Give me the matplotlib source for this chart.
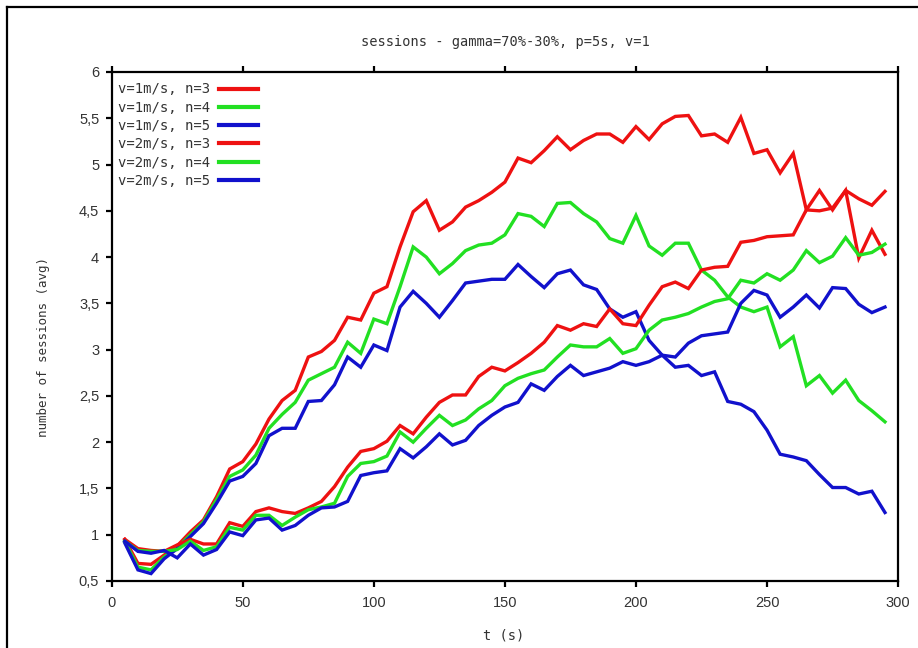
import numpy as np
import matplotlib
matplotlib.use('Agg')
import matplotlib.pyplot as plt
from matplotlib.lines import Line2D

# time axis (s)
t = list(range(5, 300, 5))

# v=1m/s runs
v1_n3 = [0.95, 0.69, 0.68, 0.78, 0.88, 1.03, 1.16, 1.41, 1.71, 1.79,
         1.98, 2.25, 2.45, 2.56, 2.92, 2.98, 3.10, 3.35, 3.32, 3.61,
         3.68, 4.11, 4.49, 4.61, 4.29, 4.38, 4.54, 4.61, 4.70, 4.81,
         5.07, 5.02, 5.15, 5.30, 5.16, 5.26, 5.33, 5.33, 5.24, 5.41,
         5.27, 5.44, 5.52, 5.53, 5.31, 5.33, 5.24, 5.51, 5.12, 5.16,
         4.91, 5.12, 4.51, 4.72, 4.51, 4.72, 3.99, 4.29, 4.03]
v1_n4 = [0.93, 0.65, 0.62, 0.76, 0.86, 1.00, 1.14, 1.38, 1.63, 1.70,
         1.86, 2.15, 2.30, 2.43, 2.67, 2.74, 2.81, 3.08, 2.96, 3.33,
         3.28, 3.68, 4.11, 4.00, 3.82, 3.93, 4.07, 4.13, 4.15, 4.24,
         4.47, 4.44, 4.33, 4.58, 4.59, 4.47, 4.38, 4.20, 4.15, 4.45,
         4.12, 4.02, 4.15, 4.15, 3.86, 3.75, 3.57, 3.46, 3.41, 3.46,
         3.03, 3.14, 2.61, 2.72, 2.53, 2.67, 2.45, 2.34, 2.22]
v1_n5 = [0.91, 0.62, 0.58, 0.74, 0.85, 0.98, 1.12, 1.34, 1.58, 1.63,
         1.77, 2.07, 2.15, 2.15, 2.44, 2.45, 2.62, 2.92, 2.81, 3.05,
         2.99, 3.46, 3.63, 3.50, 3.35, 3.53, 3.72, 3.74, 3.76, 3.76,
         3.92, 3.79, 3.67, 3.82, 3.86, 3.70, 3.65, 3.44, 3.35, 3.41,
         3.10, 2.94, 2.81, 2.83, 2.72, 2.76, 2.44, 2.41, 2.33, 2.13,
         1.87, 1.84, 1.80, 1.65, 1.51, 1.51, 1.44, 1.47, 1.24]

# v=2m/s runs
v2_n3 = [0.95, 0.85, 0.83, 0.82, 0.89, 0.95, 0.90, 0.90, 1.13, 1.09,
         1.25, 1.29, 1.25, 1.23, 1.29, 1.36, 1.52, 1.73, 1.90, 1.93,
         2.01, 2.18, 2.09, 2.27, 2.43, 2.51, 2.51, 2.71, 2.81, 2.77,
         2.86, 2.96, 3.08, 3.26, 3.21, 3.28, 3.25, 3.44, 3.28, 3.26,
         3.48, 3.68, 3.73, 3.66, 3.86, 3.89, 3.90, 4.16, 4.18, 4.22,
         4.23, 4.24, 4.51, 4.50, 4.53, 4.72, 4.63, 4.56, 4.71]
v2_n4 = [0.93, 0.83, 0.82, 0.82, 0.84, 0.93, 0.83, 0.87, 1.08, 1.05,
         1.21, 1.21, 1.10, 1.19, 1.27, 1.30, 1.34, 1.63, 1.77, 1.79,
         1.85, 2.11, 2.00, 2.15, 2.29, 2.18, 2.24, 2.36, 2.45, 2.61,
         2.69, 2.74, 2.78, 2.92, 3.05, 3.03, 3.03, 3.12, 2.96, 3.01,
         3.21, 3.32, 3.35, 3.39, 3.46, 3.52, 3.55, 3.75, 3.72, 3.82,
         3.75, 3.86, 4.07, 3.94, 4.01, 4.21, 4.02, 4.05, 4.14]
v2_n5 = [0.93, 0.82, 0.80, 0.83, 0.75, 0.90, 0.78, 0.84, 1.03, 0.99,
         1.16, 1.18, 1.05, 1.10, 1.21, 1.29, 1.30, 1.36, 1.64, 1.67,
         1.69, 1.93, 1.83, 1.95, 2.09, 1.97, 2.02, 2.18, 2.29, 2.38,
         2.43, 2.63, 2.56, 2.71, 2.83, 2.72, 2.76, 2.80, 2.87, 2.83,
         2.87, 2.94, 2.92, 3.07, 3.15, 3.17, 3.19, 3.50, 3.64, 3.59,
         3.35, 3.46, 3.59, 3.45, 3.67, 3.66, 3.49, 3.40, 3.46]

labels = ['v=1m/s, n=3', 'v=1m/s, n=4', 'v=1m/s, n=5',
          'v=2m/s, n=3', 'v=2m/s, n=4', 'v=2m/s, n=5']
colors = ['#ee1111', '#22e022', '#1111cc', '#ee1111', '#22e022', '#1111cc']

xticks = [0, 50, 100, 150, 200, 250, 300]
yticks = [0.5, 1, 1.5, 2, 2.5, 3, 3.5, 4, 4.5, 5, 5.5, 6]
ytick_labels = ['0,5', '1', '1,5', '2', '2,5', '3', '3,5', '4', '4,5', '5', '5,5', '6']

mono = 'DejaVu Sans Mono'
txt_col = '#333333'

fig = plt.figure(figsize=(9.18, 6.48), dpi=100)
ax = fig.add_axes([0.1217, 0.1034, 0.8566, 0.7855])

series = [v1_n3, v1_n4, v1_n5, v2_n3, v2_n4, v2_n5]
for ys, lab, c in zip(series, labels, colors):
    ax.plot(t, ys, color=c, lw=2.4, label=lab, solid_joinstyle='miter')

ax.set_xlim(0, 300)
ax.set_ylim(0.5, 6)
ax.set_xticks(xticks)
ax.set_xticklabels([str(x) for x in xticks])
ax.set_yticks(yticks)
ax.set_yticklabels(ytick_labels)

for s in ax.spines.values():
    s.set_linewidth(1.6)
    s.set_color('black')

ax.tick_params(axis='both', direction='out', length=4, width=1.6,
               labelsize=10.5, labelcolor=txt_col, pad=5)
ax.tick_params(axis='x', top=True, pad=7)
ax.tick_params(axis='y', right=False)
for lbl in ax.get_xticklabels() + ax.get_yticklabels():
    lbl.set_family('Liberation Sans')

ax.set_xlabel('t (s)', family=mono, fontsize=9.8, color=txt_col)
ax.xaxis.set_label_coords(0.498, -0.093)
ax.set_ylabel('number of sessions (avg)', family=mono, fontsize=9, color=txt_col)
ax.yaxis.set_label_coords(-0.079, 0.46)

fig.text(505 / 918, 1 - 42 / 648, 'sessions - gamma=70%-30%, p=5s, v=1',
         family=mono, fontsize=9.8, color=txt_col, ha='center', va='center')

leg = ax.legend(loc='upper left', bbox_to_anchor=(-0.005, 1.0), frameon=False,
                markerfirst=False, handlelength=2.8, handletextpad=0.6,
                labelspacing=0.31, borderaxespad=0.3, borderpad=0.45,
                prop={'family': mono, 'size': 10})
for tx in leg.get_texts():
    tx.set_color(txt_col)
for ln in leg.get_lines():
    ln.set_linewidth(3)

# outer frame of the picture (top and left edges visible)
fig.add_artist(Line2D([7 / 918, 7 / 918], [0, 1 - 7 / 648], color='black', lw=1.6,
                      transform=fig.transFigure))
fig.add_artist(Line2D([7 / 918, 1], [1 - 7 / 648, 1 - 7 / 648], color='black', lw=1.6,
                      transform=fig.transFigure))

fig.savefig('out.png', dpi=100)
